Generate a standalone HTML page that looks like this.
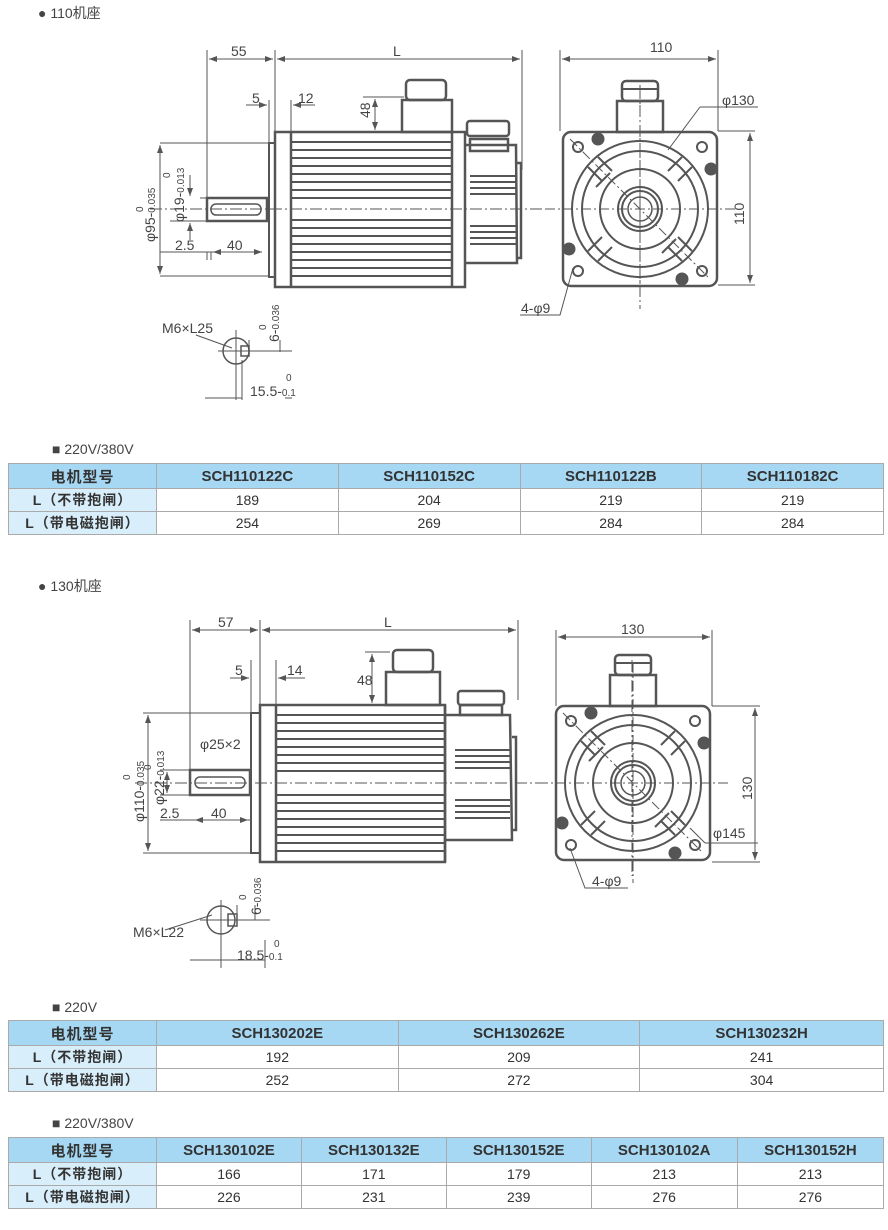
<!DOCTYPE html>
<html><head><meta charset="utf-8"><style>
body{margin:0;background:#fff;width:888px;height:1230px;position:relative;overflow:hidden;font-family:"Liberation Sans","Noto Sans CJK SC",sans-serif;color:#444}
.t{position:absolute;font-size:14px;color:#444}
table{position:absolute;border-collapse:collapse;left:8px;width:876px;font-size:14px;color:#333}
td{border:1px solid #aaa;text-align:center;height:22px;padding:0;background:#fff}
tr.h td{background:#a6d8f3;font-weight:bold;font-size:15px;height:24px}
td.f{background:#d8eefa;width:147px;font-weight:bold;font-size:14px;letter-spacing:1px}
tr.h td.f{background:#a6d8f3}
svg{position:absolute;left:0;top:0}
</style></head><body>
<div class="t" style="left:38px;top:3px">● 110机座</div>
<div class="t" style="left:52px;top:441px">■ 220V/380V</div>
<div class="t" style="left:38px;top:576px">● 130机座</div>
<div class="t" style="left:52px;top:999px">■ 220V</div>
<div class="t" style="left:52px;top:1115px">■ 220V/380V</div>

<svg width="888" height="1230" viewBox="0 0 888 1230" font-family="Liberation Sans,sans-serif" font-size="14" fill="none" stroke="#555">
<defs>
<g id="fv">
<rect x="-77" y="-77" width="154" height="154" rx="8" stroke-width="2.5"/>
<circle r="68" stroke-width="2"/><circle r="58" stroke-width="2"/><circle r="40" stroke-width="2"/>
<circle r="22" stroke-width="2"/><circle r="18" stroke-width="2"/><circle r="12" stroke-width="1.5"/>
<g stroke-width="2"><line x1="-30" y1="-36" x2="-44" y2="-22"/><line x1="-36" y1="-30" x2="-50" y2="-16" stroke-width="0"/>
<line x1="30" y1="-36" x2="44" y2="-22" transform="rotate(90)"/>
<path d="M-28,-38 L-42,-52 M-38,-28 L-52,-42 M28,-38 L42,-52 M38,-28 L52,-42 M-28,38 L-42,52 M-38,28 L-52,42 M28,38 L42,52 M38,28 L52,42"/></g>
<g stroke-width="2"><circle cx="-62" cy="-62" r="5"/><circle cx="62" cy="-62" r="5"/><circle cx="-62" cy="62" r="5"/><circle cx="62" cy="62" r="5"/></g>
<g fill="#555" stroke-width="1"><circle cx="-42" cy="-70" r="6"/><circle cx="71" cy="-40" r="6"/><circle cx="-71" cy="40" r="6"/><circle cx="42" cy="70" r="6"/></g>
<path d="M-95,0 H95 M0,-120 V100 M-70,-70 L70,70" stroke-width="1" stroke-dasharray="10,3,2,3"/>
<rect x="-23" y="-108" width="46" height="31" stroke-width="2.5"/>
<rect x="-18" y="-128" width="36" height="20" rx="4" stroke-width="2.5"/>
<line x1="-18" y1="-120" x2="18" y2="-120" stroke-width="2"/>
</g>
<marker id="a" markerWidth="8" markerHeight="6" refX="8" refY="3" orient="auto-start-reverse"><path d="M0,0 L8,3 L0,6z" fill="#555" stroke="none"/></marker>
</defs>

<!-- Motor 1 side -->
<g stroke-width="2.5">
<rect x="275" y="132" width="190" height="155"/>
<line x1="291" y1="132" x2="291" y2="287"/><line x1="452" y1="132" x2="452" y2="287"/>
<rect x="269" y="143" width="6" height="134" stroke-width="2"/>
<rect x="207" y="198" width="60" height="23"/>
<rect x="211" y="204" width="50" height="11" rx="5" stroke-width="1.5"/>
<rect x="402" y="100" width="50" height="32"/><rect x="406" y="80" width="40" height="20" rx="4"/>
<rect x="470" y="139" width="38" height="12"/><rect x="467" y="121" width="42" height="15" rx="3"/>
<path d="M465,145 H516 L517,263 H465 M517,163 H521 V258 H517"/>
</g>
<g stroke-width="2">
<path d="M291,142H452M291,150H452M291,158H452M291,166H452M291,174H452M291,182H452M291,190H452M291,198H452M291,220H452M291,228H452M291,236H452M291,244H452M291,252H452M291,260H452M291,268H452M291,276H452"/>
<path d="M470,176H516M470,182H516M470,188H516M470,194H516M470,226H516M470,232H516M470,238H516M470,244H516"/>
</g>

<!-- Motor 2 side -->
<g stroke-width="2.5">
<rect x="260" y="705" width="185" height="157"/>
<line x1="276" y1="705" x2="276" y2="862"/><line x1="445" y1="705" x2="445" y2="862"/>
<rect x="251" y="713" width="9" height="140" stroke-width="2"/>
<rect x="190" y="770" width="60" height="25"/>
<rect x="195" y="777" width="50" height="11" rx="5" stroke-width="1.5"/>
<rect x="386" y="672" width="54" height="33"/><rect x="393" y="650" width="40" height="22" rx="4"/>
<rect x="460" y="705" width="42" height="10"/><rect x="458" y="691" width="46" height="14" rx="3"/>
<path d="M445,715 H510 L512,840 H445 M512,737 H516 V830 H512"/>
</g>
<g stroke-width="2">
<path d="M276,715H445M276,723H445M276,731H445M276,739H445M276,747H445M276,755H445M276,763H445M276,771H445M276,795H445M276,803H445M276,811H445M276,819H445M276,827H445M276,835H445M276,843H445M276,851H445"/>
<path d="M455,750H510M455,756H510M455,762H510M455,768H510M455,800H510M455,806H510M455,812H510M455,818H510"/>
</g>

<!-- centerlines -->
<path d="M150,209H550 M640,85V300 M632,660V876 M135,783H540" stroke-width="1" stroke-dasharray="12,3,2,3"/>
<use href="#fv" x="640" y="209"/>
<use href="#fv" x="633" y="783"/>

<!-- dims motor1 -->
<g stroke-width="1">
<path d="M207,50V198 M275,50V132 M522,50V170 M269,100V143 M291,100V132 M160,143H269 M160,276H269 M200,198H207 M170,221H207 M560,50V131 M718,50V131 M718,131H755 M718,285H755 M363,97H404 M160,252H262 M207,252V260 M211,252V260"/>
<line x1="209" y1="59" x2="273" y2="59" marker-start="url(#a)" marker-end="url(#a)"/>
<line x1="277" y1="59" x2="520" y2="59" marker-start="url(#a)" marker-end="url(#a)"/>
<line x1="246" y1="105" x2="267" y2="105" marker-end="url(#a)"/><line x1="315" y1="105" x2="293" y2="105" marker-end="url(#a)"/>
<line x1="375" y1="99" x2="375" y2="130" marker-start="url(#a)" marker-end="url(#a)"/>
<line x1="160" y1="145" x2="160" y2="274" marker-start="url(#a)" marker-end="url(#a)"/>
<line x1="190" y1="175" x2="190" y2="196" marker-end="url(#a)"/><line x1="190" y1="240" x2="190" y2="223" marker-end="url(#a)"/>
<line x1="213" y1="252" x2="262" y2="252" marker-start="url(#a)" marker-end="url(#a)"/>
<line x1="562" y1="59" x2="716" y2="59" marker-start="url(#a)" marker-end="url(#a)"/>
<line x1="750" y1="133" x2="750" y2="283" marker-start="url(#a)" marker-end="url(#a)"/>
<path d="M700,107H758 M700,107L668,150 M520,315H560L573,268"/>
</g>
<!-- dims motor2 -->
<g stroke-width="1">
<path d="M190,620V770 M260,620V705 M518,620V700 M251,660V713 M276,660V705 M143,713H251 M143,853H251 M160,770H190 M160,795H190 M556,630V706 M712,630V706 M712,706H760 M712,862H760 M365,652H390 M160,820H250"/>
<line x1="192" y1="630" x2="258" y2="630" marker-start="url(#a)" marker-end="url(#a)"/>
<line x1="262" y1="630" x2="516" y2="630" marker-start="url(#a)" marker-end="url(#a)"/>
<line x1="230" y1="678" x2="249" y2="678" marker-end="url(#a)"/><line x1="305" y1="678" x2="278" y2="678" marker-end="url(#a)"/>
<line x1="372" y1="654" x2="372" y2="703" marker-start="url(#a)" marker-end="url(#a)"/>
<line x1="148" y1="715" x2="148" y2="851" marker-start="url(#a)" marker-end="url(#a)"/>
<line x1="167" y1="772" x2="167" y2="793" marker-start="url(#a)" marker-end="url(#a)"/>
<line x1="195" y1="820" x2="248" y2="820" marker-start="url(#a)" marker-end="url(#a)"/>
<line x1="558" y1="637" x2="710" y2="637" marker-start="url(#a)" marker-end="url(#a)"/>
<line x1="755" y1="708" x2="755" y2="860" marker-start="url(#a)" marker-end="url(#a)"/>
<path d="M705,843H758 M705,843L690,828 M570,848L585,888H628"/>
</g>

<!-- key sections -->
<g stroke-width="1.5">
<circle cx="236" cy="351" r="13"/><rect x="241" y="346" width="8" height="10"/>
<circle cx="221" cy="920" r="14"/><rect x="228" y="914" width="9" height="12"/>
</g>
<g stroke-width="1">
<path d="M218,351H292 M236,330V400 M280,340V352 M249,340V355 M196,335L232,348 M205,398H242 M242,360V400 M285,398H292 M200,920H270 M221,900V968 M255,905V920 M237,905V920 M265,940V968 M190,960H265 M165,930L212,915"/>
</g>

<g fill="#444" stroke="none" font-size="14">
<text x="231" y="56">55</text><text x="393" y="56">L</text>
<text x="252" y="103">5</text><text x="298" y="103">12</text>
<text x="370" y="118" transform="rotate(-90 370 118)">48</text>
<text x="155" y="242" transform="rotate(-90 155 242)">φ95-<tspan font-size="10">0.035</tspan></text>
<text x="143" y="212" font-size="10" transform="rotate(-90 143 212)">0</text>
<text x="184" y="222" transform="rotate(-90 184 222)">φ19-<tspan font-size="10">0.013</tspan></text>
<text x="170" y="178" font-size="10" transform="rotate(-90 170 178)">0</text>
<text x="175" y="250">2.5</text><text x="227" y="250">40</text>
<text x="650" y="52">110</text><text x="722" y="105">φ130</text>
<text x="744" y="225" transform="rotate(-90 744 225)">110</text>
<text x="521" y="313">4-φ9</text>
<text x="162" y="333">M6×L25</text>
<text x="279" y="342" transform="rotate(-90 279 342)">6-<tspan font-size="10">0.036</tspan></text>
<text x="266" y="330" font-size="10" transform="rotate(-90 266 330)">0</text>
<text x="250" y="396">15.5-<tspan font-size="10">0.1</tspan></text>
<text x="286" y="381" font-size="10">0</text>

<text x="218" y="627">57</text><text x="384" y="627">L</text>
<text x="235" y="675">5</text><text x="287" y="675">14</text>
<text x="357" y="685">48</text>
<text x="144" y="822" transform="rotate(-90 144 822)">φ110-<tspan font-size="10">0.035</tspan></text>
<text x="130" y="780" font-size="10" transform="rotate(-90 130 780)">0</text>
<text x="164" y="805" transform="rotate(-90 164 805)">φ22-<tspan font-size="10">0.013</tspan></text>
<text x="151" y="770" font-size="10" transform="rotate(-90 151 770)">0</text>
<text x="200" y="749">φ25×2</text>
<text x="160" y="818">2.5</text><text x="211" y="818">40</text>
<text x="621" y="634">130</text><text x="713" y="838">φ145</text>
<text x="752" y="800" transform="rotate(-90 752 800)">130</text>
<text x="592" y="886">4-φ9</text>
<text x="133" y="937">M6×L22</text>
<text x="261" y="915" transform="rotate(-90 261 915)">6-<tspan font-size="10">0.036</tspan></text>
<text x="246" y="900" font-size="10" transform="rotate(-90 246 900)">0</text>
<text x="237" y="960">18.5-<tspan font-size="10">0.1</tspan></text>
<text x="274" y="947" font-size="10">0</text>
</g>
</svg>

<table style="top:463px">
<tr class="h"><td class="f">电机型号</td><td>SCH110122C</td><td>SCH110152C</td><td>SCH110122B</td><td>SCH110182C</td></tr>
<tr><td class="f">L（不带抱闸）</td><td>189</td><td>204</td><td>219</td><td>219</td></tr>
<tr><td class="f">L（带电磁抱闸）</td><td>254</td><td>269</td><td>284</td><td>284</td></tr>
</table>
<table style="top:1020px">
<tr class="h"><td class="f">电机型号</td><td>SCH130202E</td><td>SCH130262E</td><td>SCH130232H</td></tr>
<tr><td class="f">L（不带抱闸）</td><td>192</td><td>209</td><td>241</td></tr>
<tr><td class="f">L（带电磁抱闸）</td><td>252</td><td>272</td><td>304</td></tr>
</table>
<table style="top:1137px">
<tr class="h"><td class="f">电机型号</td><td>SCH130102E</td><td>SCH130132E</td><td>SCH130152E</td><td>SCH130102A</td><td>SCH130152H</td></tr>
<tr><td class="f">L（不带抱闸）</td><td>166</td><td>171</td><td>179</td><td>213</td><td>213</td></tr>
<tr><td class="f">L（带电磁抱闸）</td><td>226</td><td>231</td><td>239</td><td>276</td><td>276</td></tr>
</table>
</body></html>
